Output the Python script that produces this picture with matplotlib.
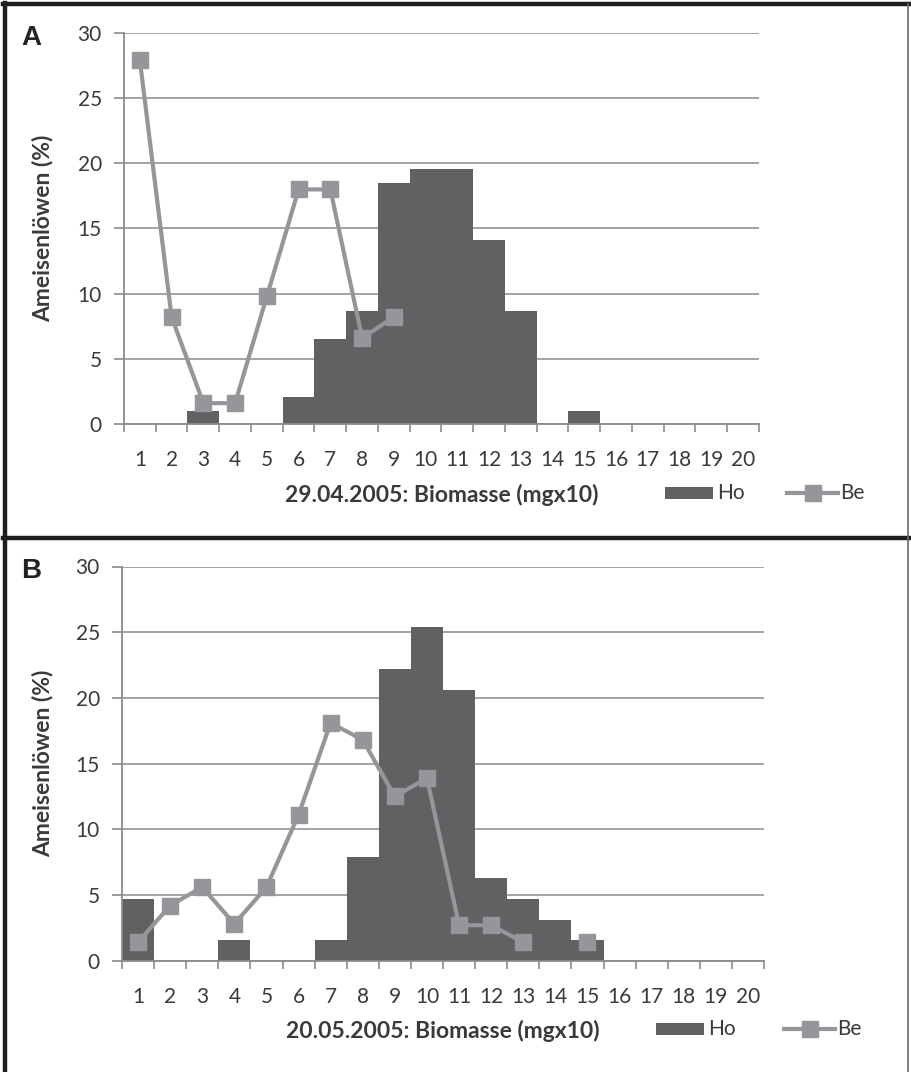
import numpy as np
import matplotlib
matplotlib.use("Agg")
import matplotlib.pyplot as plt
from matplotlib.lines import Line2D
from matplotlib.patches import Rectangle

plt.rcParams['font.family'] = ['Lato', 'DejaVu Sans']

# Biomass classes (mg x 10)
classes = list(range(1, 21))
class_labels = [str(c) for c in classes]

# 29.04.2005 – share of antlions (%) per biomass class
ho_a = [0, 0, 1.0, 0, 0, 2.1, 6.5, 8.7, 18.5, 19.6, 19.6, 14.1, 8.7, 0, 1.0, 0, 0, 0, 0, 0]
be_a = [27.9, 8.2, 1.6, 1.6, 9.8, 18.0, 18.0, 6.6, 8.2] + [np.nan] * 11

# 20.05.2005
ho_b = [4.7, 0, 0, 1.6, 0, 0, 1.6, 7.9, 22.2, 25.4, 20.6, 6.3, 4.7, 3.1, 1.6, 0, 0, 0, 0, 0]
be_b = [1.4, 4.2, 5.6, 2.8, 5.6, 11.1, 18.1, 16.8, 12.5, 13.9, 2.7, 2.7, 1.4, np.nan, 1.4] + [np.nan] * 5

panel_letters = ["A", "B"]
date_labels = ["29.04.2005: Biomasse (mgx10)", "20.05.2005: Biomasse (mgx10)"]
ylabel = "Ameisenlöwen (%)"
series_names = ["Ho", "Be"]
yticks = [0, 5, 10, 15, 20, 25, 30]

BAR = "#616163"
LINE = "#959699"
GRID = "#9c9c9c"
AXC = "#8a8a8a"
TXT = "#3a3a3a"

W, H = 911, 1072
fig = plt.figure(figsize=(W / 100, H / 100), dpi=100)


def px_rect(l, r, t, b):
    return [l / W, 1 - b / H, (r - l) / W, (b - t) / H]


axes_px = [(124, 759, 33, 424), (122, 764, 566.5, 960.7)]
label_y = [495, 1031]
legend_y = [493, 1029]
legend_x = [(665, 713, 787, 838), (656, 704, 784, 835)]
letter_y = [38, 571]

for i, (ho, be) in enumerate([(ho_a, be_a), (ho_b, be_b)]):
    ax = fig.add_axes(px_rect(*axes_px[i]))
    x = np.array(classes)
    ax.bar(x, ho, width=1.0, color=BAR, linewidth=0, zorder=2)
    ax.plot(x, be, color=LINE, lw=3.0, marker="s", markersize=12,
            markerfacecolor=LINE, markeredgecolor=LINE, zorder=3)

    ax.set_xlim(0.5, 20.5)
    ax.set_ylim(0, 30)
    ax.set_yticks(yticks)
    ax.set_yticklabels([str(v) for v in yticks])
    ax.yaxis.grid(True, color=GRID, lw=1.3, zorder=0)
    ax.set_axisbelow(True)

    # tick marks sit on class boundaries, labels on class centres
    ax.set_xticks(np.arange(0.5, 21, 1.0))
    ax.set_xticklabels([])
    ax.set_xticks(x, minor=True)
    ax.set_xticklabels(class_labels, minor=True)
    ax.tick_params(axis="x", which="major", direction="out", length=6, width=1.2, color=AXC)
    ax.tick_params(axis="x", which="minor", length=0, pad=19, labelsize=15, labelcolor=TXT)
    ax.tick_params(axis="y", direction="out", length=7, width=1.2, color=AXC,
                   pad=9, labelsize=15, labelcolor=TXT)

    for s in ["top", "right"]:
        ax.spines[s].set_visible(False)
    for s in ["left", "bottom"]:
        ax.spines[s].set_color(AXC)
        ax.spines[s].set_linewidth(1.3)
    ax.spines["bottom"].set_zorder(4)

    l, r, t, b = axes_px[i]
    ax.set_ylabel(ylabel, fontsize=16.5, fontweight="bold", color=TXT)
    ax.yaxis.set_label_coords((53 - l) / (r - l), 0.5)

    fig.text((l + r) / 2 / W, 1 - label_y[i] / H, date_labels[i], ha="center", va="center",
             fontsize=16.5, fontweight="bold", color=TXT)
    fig.text(21 / W, 1 - letter_y[i] / H, panel_letters[i], ha="left", va="center",
             fontsize=20, fontweight="bold", color="#222222", family="Liberation Sans")

    # legend drawn in figure pixel space
    hx0, hx1, bx0, bx1 = legend_x[i]
    ly = legend_y[i]
    fig.patches.append(Rectangle((hx0 / W, 1 - (ly + 6) / H), (hx1 - hx0) / W, 12 / H,
                                 transform=fig.transFigure, color=BAR, lw=0))
    fig.text((hx1 + 4) / W, 1 - ly / H, series_names[0], ha="left", va="center",
             fontsize=15, color=TXT)
    fig.add_artist(Line2D([bx0 / W, bx1 / W], [1 - ly / H, 1 - ly / H], color=LINE, lw=3,
                          transform=fig.transFigure))
    fig.add_artist(Line2D([(bx0 + bx1) / 2 / W], [1 - ly / H], color=LINE, marker="s",
                          markersize=12, transform=fig.transFigure, lw=0))
    fig.text((bx1 + 2) / W, 1 - ly / H, series_names[1], ha="left", va="center",
             fontsize=15, color=TXT)

# panel frames
fig.add_artist(Line2D([3 / W, 1], [1 - 4 / H, 1 - 4 / H], color="#1e1e1e", lw=3.2,
                      transform=fig.transFigure))
fig.add_artist(Line2D([5 / W, 5 / W], [0, 1 - 3 / H], color="#1e1e1e", lw=3.2,
                      transform=fig.transFigure))
fig.add_artist(Line2D([3 / W, 1], [1 - 538 / H, 1 - 538 / H], color="#1e1e1e", lw=3.2,
                      transform=fig.transFigure))
fig.add_artist(Line2D([907.5 / W, 907.5 / W], [0, 1 - 4 / H], color="#6a6a6a", lw=1.2,
                      transform=fig.transFigure))

fig.savefig("out.png", dpi=100, facecolor="white")
